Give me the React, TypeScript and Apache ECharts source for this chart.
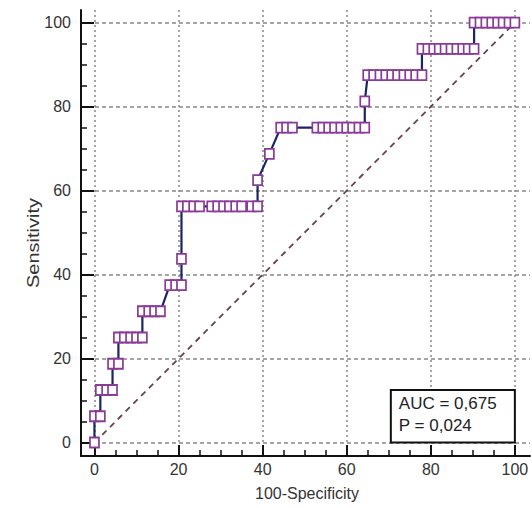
import React, { useEffect, useRef } from "react";
import * as echarts from "echarts";

// 100-Specificity (x) and Sensitivity (y) of each ROC criterion point
const specificity100 = [
  0,
  0, 1.4,
  1.4, 2.9, 4.3,
  4.3, 5.7,
  5.7, 7.1, 8.6, 10.0, 11.4,
  11.4, 12.9, 14.3, 15.7,
  17.9, 19.3, 20.7,
  20.7,
  20.7, 22.1, 23.6, 25.0, 27.9, 29.3, 30.7, 32.1, 33.6, 35.0, 37.4, 38.8,
  38.8,
  41.6,
  44.3, 45.7, 47.1, 52.9, 54.3, 55.7, 57.1, 58.6, 60.0, 61.4, 62.9, 64.3,
  64.3,
  65.0, 66.4, 67.9, 69.3, 70.7, 72.1, 73.6, 75.0, 76.4, 77.9,
  77.9, 79.3, 80.7, 82.0, 83.4, 84.8, 86.2, 87.6, 88.9, 90.3,
  90.3, 91.7, 93.1, 94.5, 95.9, 97.2, 98.6, 100,
];
const sensitivity = [
  0,
  6.25, 6.25,
  12.5, 12.5, 12.5,
  18.75, 18.75,
  25, 25, 25, 25, 25,
  31.25, 31.25, 31.25, 31.25,
  37.5, 37.5, 37.5,
  43.75,
  56.25, 56.25, 56.25, 56.25, 56.25, 56.25, 56.25, 56.25, 56.25, 56.25, 56.25, 56.25,
  62.5,
  68.75,
  75, 75, 75, 75, 75, 75, 75, 75, 75, 75, 75, 75,
  81.25,
  87.5, 87.5, 87.5, 87.5, 87.5, 87.5, 87.5, 87.5, 87.5, 87.5,
  93.75, 93.75, 93.75, 93.75, 93.75, 93.75, 93.75, 93.75, 93.75, 93.75,
  100, 100, 100, 100, 100, 100, 100, 100,
];
const diagonalX = [0, 100];
const diagonalY = [0, 100];

const majorTicks = [0, 20, 40, 60, 80, 100];
const minorTicks = [5, 10, 15, 25, 30, 35, 45, 50, 55, 65, 70, 75, 85, 90, 95];

const xName = "100-Specificity";
const yName = "Sensitivity";
const aucText = "AUC = 0,675";
const pText = "P = 0,024";
// AUC box corners in data units: [x, y]
const boxTopLeft = [70.5, 12.5];
const boxBottomRight = [100, 0];

const FONT = "'Liberation Sans', Arial, sans-serif";

export default function App() {
  const ref = useRef<HTMLDivElement>(null);

  useEffect(() => {
    if (!ref.current) return;
    const chart = echarts.init(ref.current, undefined, { renderer: "svg" });

    const gridLine = (type: number[]) => ({
      show: true,
      lineStyle: { color: "#888888", width: 1.5, type },
    });

    const xMin = -3.2, xMax = 103.6, yMin = -3.2, yMax = 103;

    const mainAxisX = {
      type: "value",
      min: xMin,
      max: xMax,
      position: "bottom",
      axisLine: { show: true, onZero: false, lineStyle: { color: "#111", width: 2 } },
      axisTick: {
        show: true,
        inside: true,
        length: 11,
        customValues: majorTicks,
        lineStyle: { color: "#111", width: 2 },
      },
      axisLabel: {
        show: true,
        customValues: majorTicks,
        margin: 5,
        color: "#333",
        fontSize: 16,
        fontFamily: FONT,
      },
      splitLine: gridLine([2, 3]),
    };
    const minorAxisX = {
      type: "value",
      min: xMin,
      max: xMax,
      position: "bottom",
      axisLine: { show: false, onZero: false },
      axisTick: {
        show: true,
        inside: true,
        length: 6,
        customValues: minorTicks,
        lineStyle: { color: "#111", width: 1.5 },
      },
      axisLabel: { show: false },
      splitLine: { show: false },
    };
    const mainAxisY = {
      type: "value",
      min: yMin,
      max: yMax,
      position: "left",
      axisLine: { show: true, onZero: false, lineStyle: { color: "#111", width: 2 } },
      axisTick: {
        show: true,
        inside: true,
        length: 13,
        customValues: majorTicks,
        lineStyle: { color: "#111", width: 2 },
      },
      axisLabel: {
        show: true,
        customValues: majorTicks,
        margin: 10,
        color: "#333",
        fontSize: 16,
        fontFamily: FONT,
      },
      splitLine: gridLine([4, 3]),
    };
    const minorAxisY = {
      type: "value",
      min: yMin,
      max: yMax,
      position: "left",
      axisLine: { show: false, onZero: false },
      axisTick: {
        show: true,
        inside: true,
        length: 6,
        customValues: minorTicks,
        lineStyle: { color: "#111", width: 1.5 },
      },
      axisLabel: { show: false },
      splitLine: { show: false },
    };

    chart.setOption({
      animation: false,
      backgroundColor: "#fff",
      grid: { left: 81, right: 2, top: 10, bottom: 52, containLabel: false },
      xAxis: [mainAxisX, minorAxisX],
      yAxis: [mainAxisY, minorAxisY],
      series: [
        {
          type: "line",
          xAxisIndex: 0,
          yAxisIndex: 0,
          data: diagonalX.map((x, i) => [x, diagonalY[i]]),
          showSymbol: false,
          symbol: "none",
          lineStyle: { color: "#654354", width: 1.8, type: [6, 5] },
          z: 2,
          silent: true,
        },
        {
          type: "line",
          xAxisIndex: 0,
          yAxisIndex: 0,
          data: specificity100.map((x, i) => [x, sensitivity[i]]),
          showAllSymbol: true,
          symbol: "rect",
          symbolSize: [9, 10],
          lineStyle: { color: "#1b2466", width: 2.2 },
          itemStyle: { color: "#ffffff", borderColor: "#8a3a98", borderWidth: 1.8 },
          z: 3,
          silent: true,
        },
      ],
    });

    const p1 = chart.convertToPixel({ gridIndex: 0 }, boxTopLeft) as number[];
    const p2 = chart.convertToPixel({ gridIndex: 0 }, boxBottomRight) as number[];
    const bx = p1[0], by = p1[1], bw = p2[0] - p1[0], bh = p2[1] - p1[1];

    chart.setOption({
      graphic: [
        {
          type: "rect",
          shape: { x: bx, y: by, width: bw, height: bh },
          style: { fill: "#fff", stroke: "#111", lineWidth: 2 },
          z: 10,
        },
        {
          type: "text",
          x: bx + 8,
          y: by + 13,
          style: {
            text: aucText,
            fontSize: 17,
            fontFamily: FONT,
            fill: "#222",
            verticalAlign: "middle",
          },
          z: 11,
        },
        {
          type: "text",
          x: bx + 8,
          y: by + 35,
          style: {
            text: pText,
            fontSize: 17,
            fontFamily: FONT,
            fill: "#222",
            verticalAlign: "middle",
          },
          z: 11,
        },
        {
          type: "text",
          x: 34,
          y: 243,
          rotation: Math.PI / 2,
          scaleX: 1.25,
          style: {
            text: yName,
            fontSize: 16,
            fontFamily: FONT,
            fill: "#333",
            align: "center",
            verticalAlign: "middle",
          },
        },
        {
          type: "text",
          x: 307,
          y: 493,
          style: {
            text: xName,
            fontSize: 16,
            fontFamily: FONT,
            fill: "#333",
            align: "center",
            verticalAlign: "middle",
          },
        },
      ],
    });

    return () => chart.dispose();
  }, []);

  return (
    <div
      ref={ref}
      style={{ position: "fixed", left: 0, top: 0, width: 532, height: 508 }}
    />
  );
}
